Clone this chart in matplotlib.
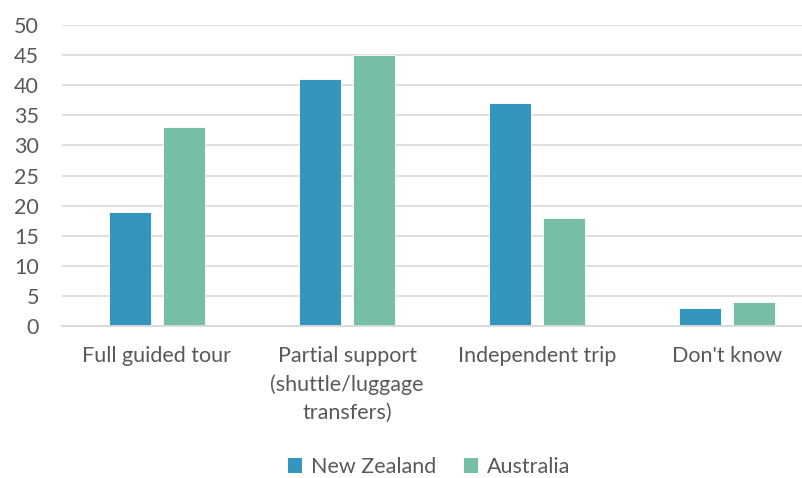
import matplotlib
matplotlib.use("Agg")
import matplotlib.pyplot as plt
from matplotlib.patches import Patch
import numpy as np

categories = ["Full guided tour", "Partial support\n(shuttle/luggage\ntransfers)",
              "Independent trip", "Don't know"]
series_names = ["New Zealand", "Australia"]
new_zealand = [19, 41, 37, 3]
australia = [33, 45, 18, 4]
y_ticks = [0, 5, 10, 15, 20, 25, 30, 35, 40, 45, 50]

colors = ["#3496BD", "#76BFA6"]
text_color = "#595959"
grid_color = "#D9D9D9"

plt.rcParams["font.family"] = ["Lato", "DejaVu Sans"]
fs = 15.5

W, H = 802, 478
fig = plt.figure(figsize=(W / 100, H / 100), dpi=100)
left, right, top, bottom = 62, 802, 25, 326
ax = fig.add_axes([left / W, 1 - bottom / H, (right - left) / W, (bottom - top) / H])

x = np.arange(len(categories))
width = 0.221
offset = 0.142
ax.bar(x - offset, new_zealand, width, color=colors[0], edgecolor="white", linewidth=0.6)
ax.bar(x + offset, australia, width, color=colors[1], edgecolor="white", linewidth=0.6)

ax.set_xlim(-0.5, -0.5 + (right - left) / 190)
ax.set_ylim(0, 50)
ax.set_yticks(y_ticks)
ax.set_yticklabels([str(v) for v in y_ticks], fontsize=fs, color=text_color)
ax.set_xticks(x)
ax.set_xticklabels(categories, fontsize=fs, color=text_color, linespacing=1.5,
                   va="top")
ax.tick_params(axis="both", length=0)
ax.tick_params(axis="y", pad=16.5)
ax.tick_params(axis="x", pad=14.5)

ax.grid(axis="y", color=grid_color, linewidth=1.2)
ax.set_axisbelow(True)
for s in ["top", "right", "left"]:
    ax.spines[s].set_visible(False)
ax.spines["bottom"].set_color(grid_color)
ax.spines["bottom"].set_linewidth(1.4)

handles = [Patch(facecolor=c, edgecolor="none") for c in colors]
fig.legend(handles, series_names, loc="center", bbox_to_anchor=(429 / W, 1 - 467 / H),
           ncol=2, frameon=False, fontsize=fs, labelcolor=text_color,
           handlelength=0.65, handleheight=0.65, handletextpad=0.4, columnspacing=1.3)

fig.savefig("out.png", dpi=100, facecolor="white")
